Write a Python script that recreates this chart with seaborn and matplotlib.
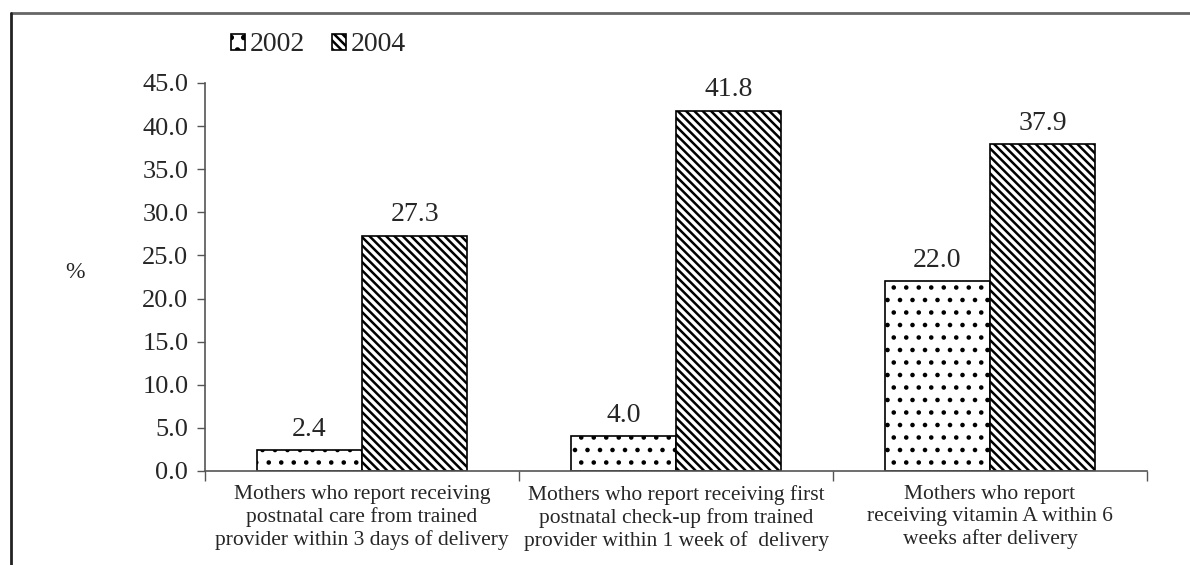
import matplotlib
matplotlib.use("Agg")
import matplotlib.pyplot as plt
import matplotlib.hatch as mhatch
import seaborn as sns
import pandas as pd
from matplotlib.lines import Line2D

# Indicators (x categories) and survey years
categories = [
    "Mothers who report receiving\npostnatal care from trained\nprovider within 3 days of delivery",
    "Mothers who report receiving first\npostnatal check-up from trained\nprovider within 1 week of  delivery",
    "Mothers who report\nreceiving vitamin A within 6\nweeks after delivery",
]
years = ["2002", "2004"]
values_2002 = [2.4, 4.0, 22.0]
values_2004 = [27.3, 41.8, 37.9]
y_ticks = [0, 5, 10, 15, 20, 25, 30, 35, 40, 45]

df = pd.DataFrame({
    "indicator": categories * 2,
    "year": [years[0]] * 3 + [years[1]] * 3,
    "pct": values_2002 + values_2004,
})


class FineDots(mhatch.SmallFilledCircles):
    """Denser dot screen for the '.' hatch (row count must stay even)."""
    size = 0.12

    def __init__(self, hatch, density):
        super().__init__(hatch, 8)


mhatch._hatch_types = [FineDots if t is mhatch.SmallFilledCircles else t
                       for t in mhatch._hatch_types]

sns.set_theme(style="white")
plt.rcParams["font.family"] = ["Liberation Serif", "DejaVu Serif"]
plt.rcParams["hatch.linewidth"] = 1.8
plt.rcParams["hatch.color"] = "black"

fig = plt.figure(figsize=(11.9, 5.65), dpi=100)
ax = fig.add_axes([0.1723, 0.1664, 0.7916, 0.6867])

sns.barplot(data=df, x="indicator", y="pct", hue="year", order=categories,
            hue_order=years, width=0.67, palette=["white", "white"],
            edgecolor="black", linewidth=1.2, legend=False, ax=ax)

hatches = [".", "\\\\\\\\"]
hatch_lw = [1.1, 1.8]
for cont, h, hlw in zip(ax.containers, hatches, hatch_lw):
    for bar in cont:
        bar.set_hatch(h)
        bar.set_facecolor("white")
        bar.set_edgecolor("black")
        if hasattr(bar, "set_hatch_linewidth"):
            bar.set_hatch_linewidth(hlw)
    ax.bar_label(cont, fmt="%.1f", padding=6, fontsize=20)

ax.set_xlim(-0.5, 2.5)
ax.set_ylim(0, 45)
ax.set_yticks(y_ticks)
ax.set_yticklabels([f"{v:.1f}" for v in y_ticks], fontsize=19)
ax.set_xticks(range(len(categories)))
ax.set_xticklabels(categories, fontsize=15.5, linespacing=1.2)
ax.set_xticks([-0.5, 0.5, 1.5, 2.5], minor=True)
ax.tick_params(axis="x", which="major", length=0, pad=10)
ax.tick_params(axis="x", which="minor", length=7, width=1, color="#555555", direction="out", bottom=True)
ax.tick_params(axis="y", length=6, width=1, color="#555555", direction="out", left=True, pad=6)
ax.set_xlabel("")
ax.set_ylabel("")
fig.text(75 / 1190, 1 - 272 / 565, "%", fontsize=17, ha="center", va="center")

for side in ["top", "right"]:
    ax.spines[side].set_visible(False)
for side in ["left", "bottom"]:
    ax.spines[side].set_color("#555555")
    ax.spines[side].set_linewidth(1.2)

leg = ax.legend(handles=list(ax.containers), labels=years, loc="center left",
                bbox_to_anchor=(0.028, 1.098), ncol=2, frameon=False, fontsize=20,
                handlelength=0.5, handleheight=0.5, handletextpad=0.15,
                columnspacing=1.0, borderaxespad=0, borderpad=0)

# Page frame lines
fig.add_artist(Line2D([0.0092, 1.0], [0.977, 0.977], color="#666666", lw=2))
fig.add_artist(Line2D([0.0092, 0.0092], [0.0, 0.977], color="#222222", lw=2))

fig.savefig("out.png", dpi=100, facecolor="white")
